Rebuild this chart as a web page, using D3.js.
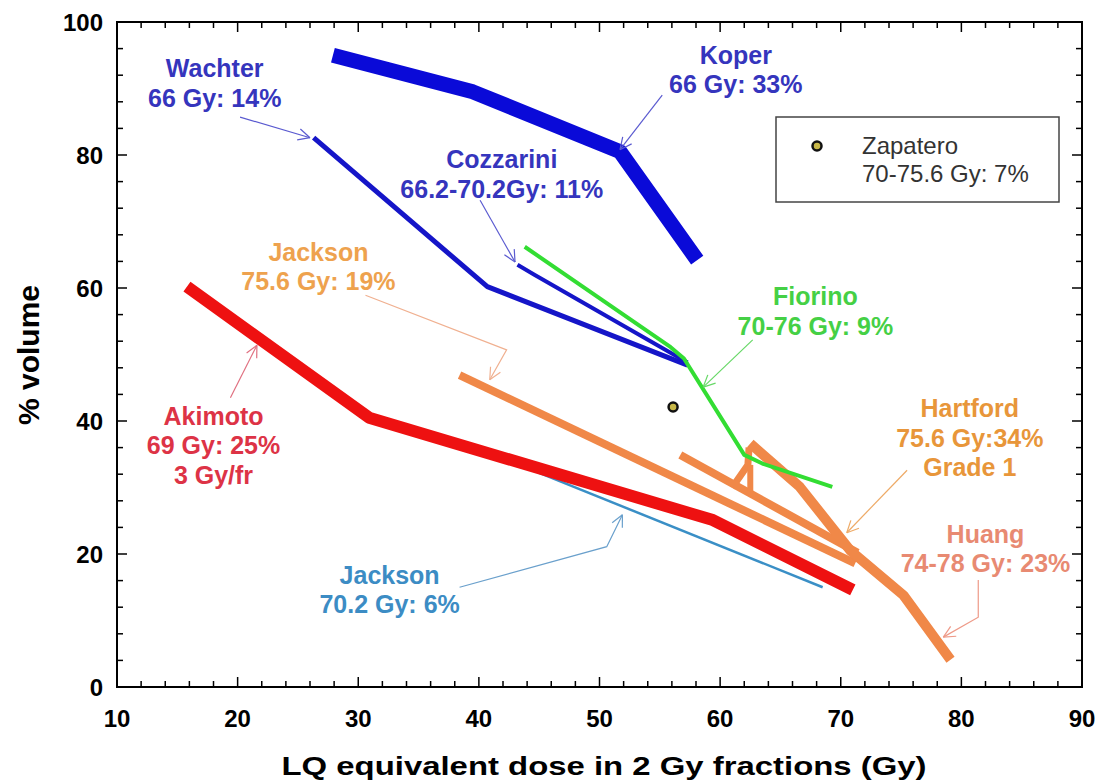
<!DOCTYPE html>
<html lang="en">
<head>
<meta charset="UTF-8">
<title>Rectal toxicity DVH constraints</title>
<script src="https://d3js.org/d3.v7.min.js"></script>
<style>
    body { margin: 0; background: #fff; }
    svg text { font-family: "Liberation Sans", Arial, Helvetica, sans-serif; }
    .lbl { font-weight: bold; font-size: 25px; text-anchor: middle; }
</style>
</head>
<body>
<svg id="chart" width="1105" height="781"></svg>
<script>
    // curves: [dose (Gy), % volume]
    var koper = [[27.9, 95.0], [39.5, 89.5], [51.7, 80.5], [58.1, 64.2]];
    var wachter = [[26.3, 82.6], [40.7, 60.2], [57.3, 48.4]];
    var cozzarini = [[43.2, 63.5], [44.6, 62.0], [57.3, 48.8]];
    var fiorino = [[43.8, 66.2], [55.9, 51.1], [57.0, 49.4], [62.0, 34.9], [63.5, 33.6], [69.3, 30.1]];
    var akimoto = [[15.8, 60.2], [30.9, 40.5], [59.4, 25.1], [71.0, 14.6]];
    var jackson702 = [[45.0, 32.2], [68.5, 15.0]];
    var jackson756 = [[38.4, 46.9], [71.2, 18.6]];
    var hartford = [[56.7, 34.9], [71.4, 20.2]];
    var hartfordArm = [[61.0, 30.0], [62.3, 33.4], [62.4, 36.0]];
    var hartfordStem = [[62.5, 33.4], [62.5, 29.4]];
    var huang = [[62.5, 36.6], [66.6, 30.1], [70.8, 20.5], [75.2, 13.8], [79.1, 4.1]];
    var zapatero = [56.1, 42.1];

    var xTicks = [10, 20, 30, 40, 50, 60, 70, 80, 90];
    var yTicks = [0, 20, 40, 60, 80, 100];

    var curves = [
        {d: jackson702, c: "#3a8fc6", w: 2.5},
        {d: akimoto, c: "#ee1111", w: 12},
        {d: jackson756, c: "#f08848", w: 8},
        {d: hartford, c: "#f08848", w: 8},
        {d: hartfordArm, c: "#f08848", w: 7},
        {d: hartfordStem, c: "#f08848", w: 6},
        {d: huang, c: "#f08848", w: 10},
        {d: koper, c: "#0a0ad8", w: 15},
        {d: wachter, c: "#1515c8", w: 5},
        {d: cozzarini, c: "#1515c8", w: 4},
        {d: fiorino, c: "#33dd33", w: 4}
    ];

    // annotation text, first baseline in data units
    var notes = [
        {t: ["Wachter", "66 Gy: 14%"], at: [18.1, 91.7], c: "#3535bd"},
        {t: ["Koper", "66 Gy: 33%"], at: [61.3, 93.7], c: "#3535bd"},
        {t: ["Cozzarini", "66.2-70.2Gy: 11%"], at: [41.9, 78.0], c: "#3535bd"},
        {t: ["Jackson", "75.6 Gy: 19%"], at: [26.7, 64.1], c: "#eea24e"},
        {t: ["Fiorino", "70-76 Gy: 9%"], at: [67.9, 57.4], c: "#45d045"},
        {t: ["Hartford", "75.6 Gy:34%", "Grade 1"], at: [80.7, 40.6], c: "#e8963a"},
        {t: ["Huang", "74-78 Gy: 23%"], at: [82.0, 21.7], c: "#e88a72"},
        {t: ["Akimoto", "69 Gy: 25%", "3 Gy/fr"], at: [18.0, 39.4], c: "#dd3346"},
        {t: ["Jackson", "70.2 Gy: 6%"], at: [32.6, 15.5], c: "#3c8cc4"}
    ];

    var arrows = [
        {d: [[20.2, 85.7], [26.0, 82.6]], c: "#5a5ad0"},
        {d: [[55.2, 89.0], [51.7, 80.8]], c: "#5a5ad0"},
        {d: [[40.1, 73.2], [43.0, 63.9]], c: "#5a5ad0"},
        {d: [[30.6, 58.9], [42.3, 50.7], [40.9, 46.2]], c: "#f0b090"},
        {d: [[62.7, 52.2], [58.6, 45.1]], c: "#66d866"},
        {d: [[75.5, 32.6], [70.5, 23.2]], c: "#eeaa66"},
        {d: [[81.4, 16.1], [81.4, 10.5], [78.5, 7.5]], c: "#ee9a88"},
        {d: [[19.4, 43.5], [21.6, 51.4]], c: "#e07080"},
        {d: [[38.4, 15.0], [50.6, 21.1], [51.9, 25.9]], c: "#6aa0cc"}
    ];

    var margin = {top: 22, right: 23, bottom: 94, left: 117},
        width = 1105 - margin.left - margin.right,
        height = 781 - margin.top - margin.bottom;

    var svg = d3.select("#chart");
    var g = svg.append("g").attr("transform", "translate(" + margin.left + "," + margin.top + ")");

    var x = d3.scaleLinear().domain([10, 90]).range([0, width]);
    var y = d3.scaleLinear().domain([0, 100]).range([height, 0]);

    var line = d3.line().x(function(d) { return x(d[0]); }).y(function(d) { return y(d[1]); });

    // curves
    g.selectAll(".curve").data(curves).enter().append("path")
        .attr("class", "curve")
        .attr("d", function(d) { return line(d.d); })
        .attr("fill", "none")
        .attr("stroke", function(d) { return d.c; })
        .attr("stroke-width", function(d) { return d.w; })
        .attr("stroke-linejoin", "round")
        .attr("stroke-linecap", "butt");

    // Zapatero point
    g.append("circle")
        .attr("cx", x(zapatero[0])).attr("cy", y(zapatero[1])).attr("r", 4.5)
        .attr("fill", "#c8b848").attr("stroke", "#111").attr("stroke-width", 2.5);

    // arrows with open heads
    arrows.forEach(function(a) {
        g.append("path").attr("d", line(a.d)).attr("fill", "none")
            .attr("stroke", a.c).attr("stroke-width", 1.2);
        var p1 = a.d[a.d.length - 2], p2 = a.d[a.d.length - 1];
        var x1 = x(p1[0]), y1 = y(p1[1]), x2 = x(p2[0]), y2 = y(p2[1]);
        var ang = Math.atan2(y2 - y1, x2 - x1), L = 13;
        [0.45, -0.45].forEach(function(da) {
            g.append("line")
                .attr("x1", x2).attr("y1", y2)
                .attr("x2", x2 - L * Math.cos(ang + da)).attr("y2", y2 - L * Math.sin(ang + da))
                .attr("stroke", a.c).attr("stroke-width", 1.2);
        });
    });

    // labels
    notes.forEach(function(n) {
        var t = g.append("text").attr("class", "lbl").attr("fill", n.c)
            .attr("x", x(n.at[0])).attr("y", y(n.at[1]));
        n.t.forEach(function(s, i) {
            t.append("tspan").attr("x", x(n.at[0])).attr("dy", i === 0 ? 0 : 29.5).text(s);
        });
    });

    // legend
    var leg = g.append("g").attr("transform", "translate(" + (776 - margin.left) + "," + (117 - margin.top) + ")");
    leg.append("rect").attr("width", 283).attr("height", 85)
        .attr("fill", "#fff").attr("stroke", "#444").attr("stroke-width", 1.5);
    leg.append("circle").attr("cx", 41).attr("cy", 29).attr("r", 4.5)
        .attr("fill", "#c8b848").attr("stroke", "#111").attr("stroke-width", 2.5);
    leg.append("text").attr("x", 86).attr("y", 37).attr("font-size", 24).attr("fill", "#333").text("Zapatero");
    leg.append("text").attr("x", 86).attr("y", 65).attr("font-size", 24).attr("fill", "#333").text("70-75.6 Gy: 7%");

    // frame + ticks on all sides
    g.append("rect").attr("width", width).attr("height", height)
        .attr("fill", "none").attr("stroke", "#000").attr("stroke-width", 2);

    var xMinor = d3.range(10, 91, 2), yMinor = d3.range(0, 101, 4);
    function tk(v, major, axis) {
        var len = major ? 10 : 6;
        if (axis === "x") {
            g.append("line").attr("x1", x(v)).attr("x2", x(v)).attr("y1", height).attr("y2", height - len)
                .attr("stroke", "#000").attr("stroke-width", 1.5);
            g.append("line").attr("x1", x(v)).attr("x2", x(v)).attr("y1", 0).attr("y2", len)
                .attr("stroke", "#000").attr("stroke-width", 1.5);
        } else {
            g.append("line").attr("y1", y(v)).attr("y2", y(v)).attr("x1", 0).attr("x2", len)
                .attr("stroke", "#000").attr("stroke-width", 1.5);
            g.append("line").attr("y1", y(v)).attr("y2", y(v)).attr("x1", width).attr("x2", width - len)
                .attr("stroke", "#000").attr("stroke-width", 1.5);
        }
    }
    xMinor.forEach(function(v) { tk(v, xTicks.indexOf(v) >= 0, "x"); });
    yMinor.forEach(function(v) { tk(v, yTicks.indexOf(v) >= 0, "y"); });

    g.selectAll(".xt").data(xTicks).enter().append("text")
        .attr("x", function(d) { return x(d); }).attr("y", height + 40)
        .attr("text-anchor", "middle").attr("font-size", 24).attr("font-weight", "bold")
        .text(function(d) { return d; });
    g.selectAll(".yt").data(yTicks).enter().append("text")
        .attr("x", -14).attr("y", function(d) { return y(d) + 9; })
        .attr("text-anchor", "end").attr("font-size", 24).attr("font-weight", "bold")
        .text(function(d) { return d; });

    // axis titles
    svg.append("text").attr("x", 604).attr("y", 775).attr("text-anchor", "middle")
        .attr("font-size", 25).attr("font-weight", "bold")
        .attr("textLength", 645).attr("lengthAdjust", "spacingAndGlyphs")
        .text("LQ equivalent dose in 2 Gy fractions (Gy)");
    svg.append("text").attr("transform", "translate(39,355) rotate(-90)").attr("text-anchor", "middle")
        .attr("font-size", 30).attr("font-weight", "bold")
        .text("% volume");
</script>
</body>
</html>
